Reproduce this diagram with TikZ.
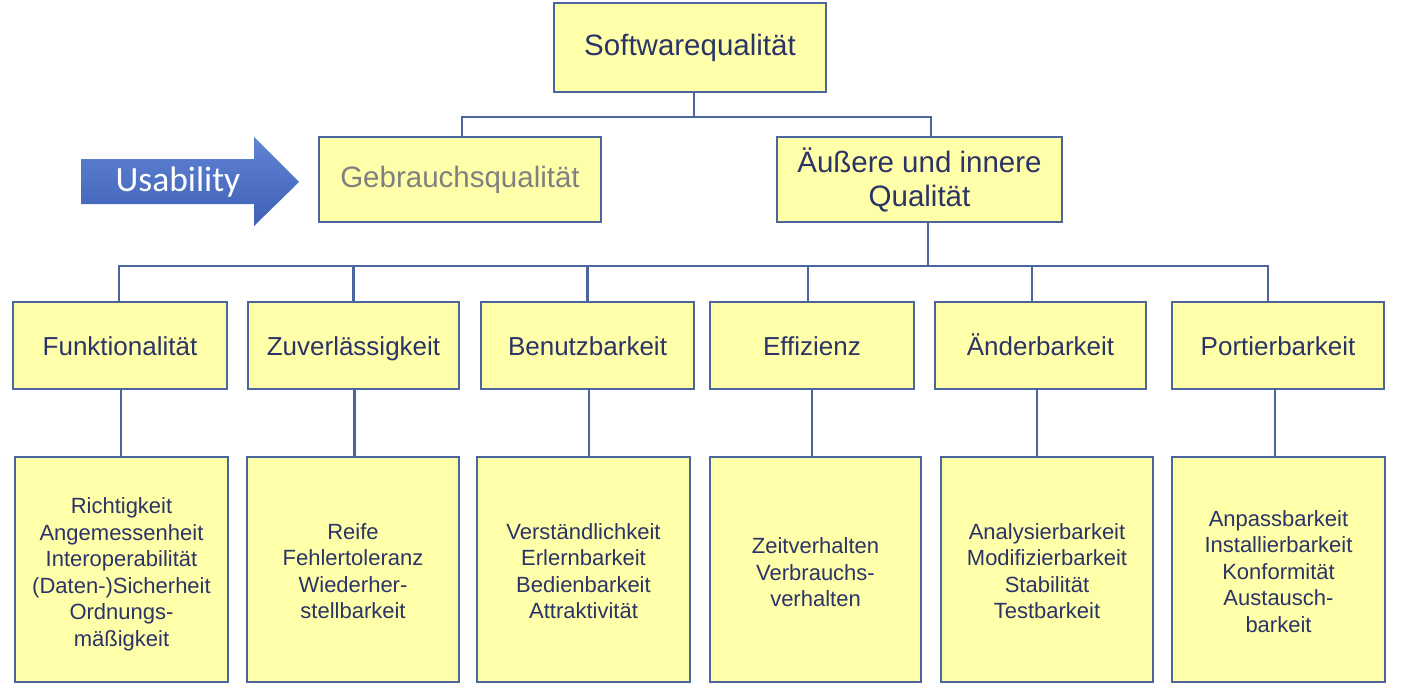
\documentclass[tikz,border=0pt]{standalone}
\usepackage{fontspec}
\setmainfont{Liberation Sans}
\newfontfamily\calfont{Carlito}
\definecolor{boxfill}{RGB}{255,255,170}
\definecolor{boxline}{RGB}{74,102,156}
\definecolor{txtcol}{RGB}{42,52,102}
\definecolor{graytxt}{RGB}{128,128,128}
\definecolor{arrtop}{RGB}{96,132,212}
\definecolor{arrbot}{RGB}{62,96,182}
\newcommand{\topfont}{\fontsize{29.5}{34}\selectfont}
\newcommand{\midfont}{\fontsize{26}{30}\selectfont}
\newcommand{\lowfont}{\fontsize{22}{26.5}\selectfont}
\begin{document}
\begin{tikzpicture}[x=1pt,y=-1pt,
  qbox/.style={draw=boxline, line width=2.4pt, fill=boxfill, text=txtcol,
    inner sep=0pt, align=center, minimum height=#1},
  qbox/.default=87,
  midbox/.style={qbox, font=\midfont, text height=19.5pt, text depth=0pt},
  lowtxt/.style={text=txtcol, font=\lowfont, align=center, inner sep=0pt},
  conn/.style={draw=boxline, line width=2.9pt}]
\useasboundingbox (0,0) rectangle (1410,696);

% bus levels
\coordinate (bus1) at (0,117);
\coordinate (bus2) at (0,266);

% level 0 and 1
\node[qbox=89, minimum width=272, font=\topfont] (sq) at (690,47.5) {Softwarequalität};
\node[qbox=85, minimum width=282, font=\topfont, text=graytxt] (gq) at (460,179.5) {Gebrauchsqualität};
\node[qbox=85, minimum width=285, font=\topfont] (aq) at (919.5,179.5) {Äußere und innere\\Qualität};

% usability arrow
\shade[top color=arrtop, bottom color=arrbot]
  (81,159) -- (254,159) -- (254,137) -- (299,182) -- (254,226) -- (254,204) -- (81,204) -- cycle;
\node[text=white, font=\calfont\fontsize{35.5}{40}\selectfont, inner sep=0pt] (us) at (178,182) {Usability};

% level 2
\node[midbox, minimum width=214] (fun) at (120,345.5) {Funktionalität};
\node[midbox, minimum width=211] (zuv) at (353.5,345.5) {Zuverlässigkeit};
\node[midbox, minimum width=213] (ben) at (587.5,345.5) {Benutzbarkeit};
\node[midbox, minimum width=204] (eff) at (812,345.5) {Effizienz};
\node[midbox, minimum width=211] (aen) at (1040.5,345.5) {Änderbarkeit};
\node[midbox, minimum width=212] (por) at (1278,345.5) {Portierbarkeit};

% level 3 boxes
\node[qbox=225, minimum width=213] (b1) at (121.5,569.5) {};
\node[qbox=225, minimum width=212] (b2) at (353,569.5) {};
\node[qbox=225, minimum width=213] (b3) at (583.5,569.5) {};
\node[qbox=225, minimum width=211] (b4) at (815.5,569.5) {};
\node[qbox=225, minimum width=212] (b5) at (1047,569.5) {};
\node[qbox=225, minimum width=213] (b6) at (1278.5,569.5) {};

% level 3 texts
\node[lowtxt] (t1) at ([yshift=-5]b1.center)
  {Richtigkeit\\Angemessenheit\\Interoperabilität\\(Daten-)Sicherheit\\Ordnungs-\\mäßigkeit};
\node[lowtxt] (t2) at ([yshift=-1.5]b2.center)
  {Reife\\Fehlertoleranz\\Wiederher-\\stellbarkeit};
\node[lowtxt] (t3) at ([yshift=-1.5]b3.center)
  {Verständlichkeit\\Erlernbarkeit\\Bedienbarkeit\\Attraktivität};
\node[lowtxt] (t4) at ([yshift=-3]b4.center)
  {Zeitverhalten\\Verbrauchs-\\verhalten};
\node[lowtxt] (t5) at ([yshift=-1.5]b5.center)
  {Analysierbarkeit\\Modifizierbarkeit\\Stabilität\\Testbarkeit};
\node[lowtxt] (t6) at ([yshift=-2]b6.center)
  {Anpassbarkeit\\Installierbarkeit\\Konformität\\Austausch-\\barkeit};

% connectors level 0 -> 1
\draw[conn] ([xshift=4]sq.south) -- ([xshift=4]sq.south |- bus1);
\draw[conn, line join=miter] ([xshift=2]gq.north) |- ([xshift=11.5]aq.north |- bus1) -- ([xshift=11.5]aq.north);

% connectors level 1 -> 2
\draw[conn] ([xshift=8.5]aq.south) -- ([xshift=8.5]aq.south |- bus2);
\draw[conn, line join=miter] ([xshift=-1]fun.north) |- ([xshift=-10]por.north |- bus2) -- ([xshift=-10]por.north);
\draw[conn] (zuv.north) -- (zuv.north |- bus2);
\draw[conn] (ben.north) -- (ben.north |- bus2);
\draw[conn] ([xshift=-4]eff.north) -- ([xshift=-4]eff.north |- bus2);
\draw[conn] ([xshift=-8.5]aen.north) -- ([xshift=-8.5]aen.north |- bus2);

% connectors level 2 -> 3
\draw[conn] ([xshift=-0.5]b1.north) -- ([xshift=-0.5]b1.north |- fun.south);
\draw[conn] ([xshift=1.5]b2.north) -- ([xshift=1.5]b2.north |- zuv.south);
\draw[conn] ([xshift=5.5]b3.north) -- ([xshift=5.5]b3.north |- ben.south);
\draw[conn] ([xshift=-3.5]b4.north) -- ([xshift=-3.5]b4.north |- eff.south);
\draw[conn] ([xshift=-10]b5.north) -- ([xshift=-10]b5.north |- aen.south);
\draw[conn] ([xshift=-3.5]b6.north) -- ([xshift=-3.5]b6.north |- por.south);
\end{tikzpicture}
\end{document}
